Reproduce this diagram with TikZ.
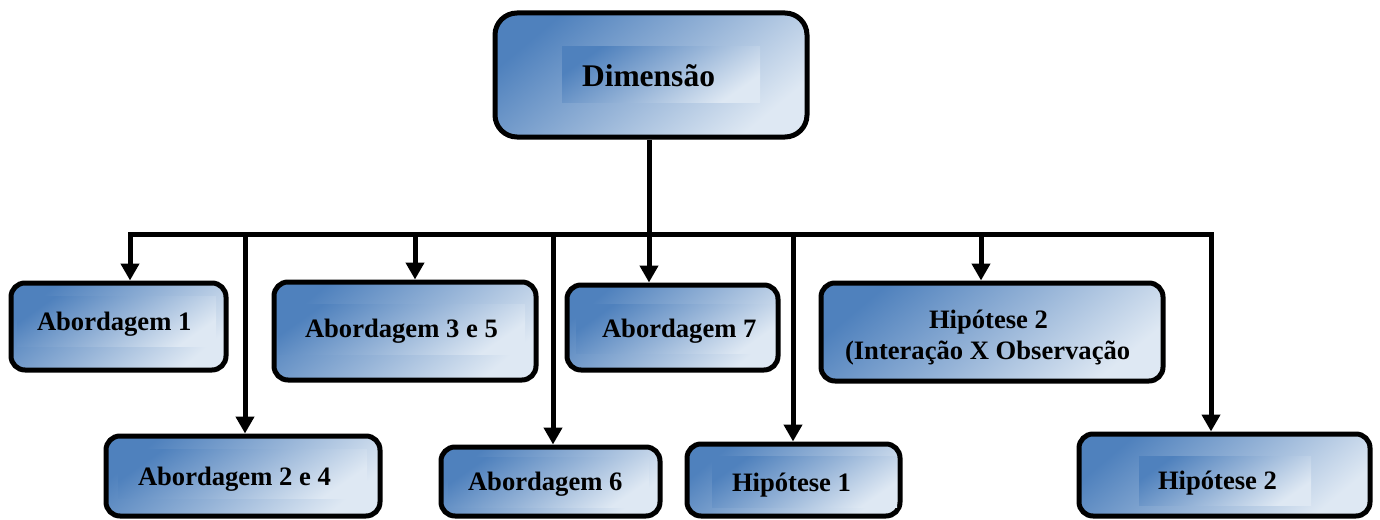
\documentclass[tikz,border=0pt]{standalone}
\usepackage{fontspec}
\setmainfont{Liberation Serif}
\usetikzlibrary{arrows.meta}
\definecolor{gA}{RGB}{79,129,189}
\definecolor{gB}{RGB}{149,179,215}
\definecolor{gC}{RGB}{222,232,243}
\tikzset{
  box/.style={draw=black, line width=5pt, rounded corners=14pt,
    top color=gA, bottom color=gC, middle color=gB, shading angle=40, inner sep=0pt},
  panel/.style={draw=none, top color=gA, bottom color=gC, middle color=gB,
    shading angle=35, inner sep=0pt, outer sep=0pt},
  lbl/.style={font=\bfseries\fontsize{26.6}{31}\selectfont, inner sep=0pt, outer sep=0pt,
    anchor=base west, text=black},
  bigl/.style={lbl, font=\bfseries\fontsize{31.5}{36}\selectfont},
  busline/.style={line width=5pt, line cap=rect},
  arr/.style={line width=5pt, -{Triangle[width=18pt,length=17pt]}},
}
\begin{document}
\begin{tikzpicture}[x=1pt,y=-1pt]
\path[use as bounding box] (0,0) rectangle (1380,519);

% boxes
\node[box, rounded corners=22pt, minimum width=312pt, minimum height=124pt] (D) at (651,75) {};
\node[box, minimum width=215pt, minimum height=87pt] (A1) at (118.5,326.5) {};
\node[box, minimum width=274pt, minimum height=80pt] (A24) at (243,476) {};
\node[box, minimum width=262pt, minimum height=98pt] (A35) at (405,331) {};
\node[box, minimum width=219pt, minimum height=69pt] (A6) at (550.5,481.5) {};
\node[box, minimum width=211pt, minimum height=85pt] (A7) at (672.5,327.5) {};
\node[box, minimum width=213pt, minimum height=72pt] (H1) at (793.5,480) {};
\node[box, minimum width=342pt, minimum height=98pt] (H2a) at (992,332) {};
\node[box, minimum width=291pt, minimum height=82pt] (H2b) at (1224.5,475) {};

% inner panels
\node[panel, minimum width=198pt, minimum height=55pt] (pD) at (661,74.5) {};
\node[panel, minimum width=199pt, minimum height=50pt] (pA1) at (116.5,321) {};
\node[panel, minimum width=249pt, minimum height=49pt] (pA24) at (242.5,473.5) {};
\node[panel, minimum width=247pt, minimum height=50pt] (pA35) at (401.5,329) {};
\node[panel, minimum width=199pt, minimum height=49pt] (pA7) at (675.5,328.5) {};
\node[panel, minimum width=201pt, minimum height=50pt] (pA6) at (548.5,482) {};
\node[panel, minimum width=185pt, minimum height=51pt] (pH1) at (804.5,481.5) {};
\node[panel, minimum width=172pt, minimum height=49pt] (pH2b) at (1225,480.5) {};

% labels
\node[bigl] (tD) at (582,86) {Dimensão};
\node[lbl] (tA1) at (37,330) {Abordagem 1};
\node[lbl] (tA24) at (138,485) {Abordagem 2 e 4};
\node[lbl] (tA35) at (305,337) {Abordagem 3 e 5};
\node[lbl] (tA7) at (602,337) {Abordagem 7};
\node[lbl] (tA6) at (468,490) {Abordagem 6};
\node[lbl] (tH1) at (732,491) {Hipótese 1};
\node[lbl] (tH2a) at (929,328) {Hipótese 2};
\node[lbl] (tH2c) at (845,359) {(Interação X Observação};
\node[lbl] (tH2b) at (1158,489) {Hipótese 2};

% connectors
\coordinate (j1) at (130,234);
\coordinate (j2) at (245,234);
\coordinate (j3) at (415,234);
\coordinate (j4) at (553,234);
\coordinate (j7) at (649,234);
\coordinate (j5) at (793,234);
\coordinate (j6) at (981,234);
\coordinate (j8) at (1211,234);

\draw[busline] (j1) -- (j8);
\draw[arr] (D.south -| j7) -- (j7 |- A7.north);
\draw[arr] (j1) -- (j1 |- A1.north);
\draw[arr] (j2) -- (j2 |- A24.north);
\draw[arr] (j3) -- (j3 |- A35.north);
\draw[arr] (j4) -- (j4 |- A6.north);
\draw[arr] (j5) -- (j5 |- H1.north);
\draw[arr] (j6) -- (j6 |- H2a.north);
\draw[arr] (j8) -- (j8 |- H2b.north);
\end{tikzpicture}
\end{document}
